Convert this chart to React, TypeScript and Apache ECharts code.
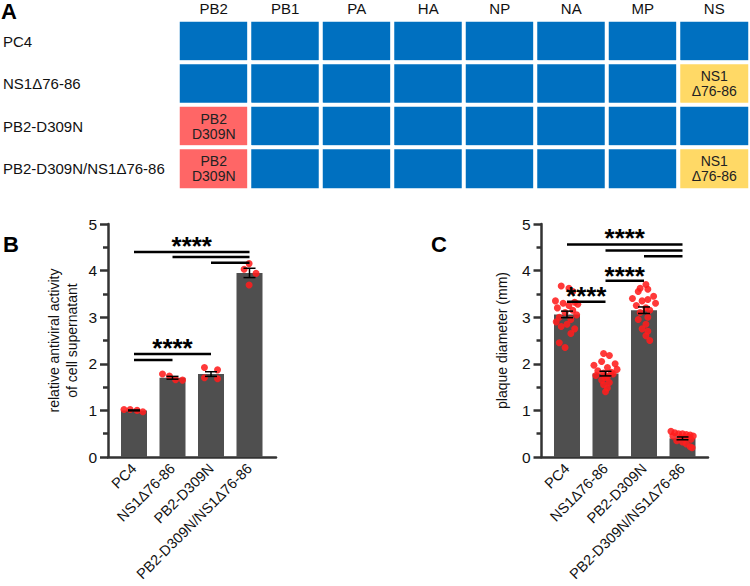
import React, { useEffect, useRef } from "react";
import * as echarts from "echarts";

const FONT = "Liberation Sans, Arial, Helvetica, sans-serif";

// Panel A
const segments = ["PB2", "PB1", "PA", "HA", "NP", "NA", "MP", "NS"];
const strains = ["PC4", "NS1Δ76-86", "PB2-D309N", "PB2-D309N/NS1Δ76-86"];
const pb2Mutant = [0, 0, 1, 1];
const ns1Deletion = [0, 1, 0, 1];
const pb2MutLabel = "PB2\nD309N";
const ns1DelLabel = "NS1\nΔ76-86";

// Panel B
const bMeans = [1.0, 1.7, 1.78, 3.95];
const bSem = [0.01, 0.03, 0.05, 0.1];
const bPoints = [
  [1.02, 1.02, 1.0, 0.97],
  [1.78, 1.74, 1.66, 1.65],
  [1.92, 1.87, 1.7, 1.68],
  [4.03, 4.15, 3.94, 3.69],
];
const bJitter = [
  [-0.26, -0.1, 0.08, 0.23],
  [-0.26, -0.08, 0.08, 0.26],
  [-0.17, 0.17, -0.17, 0.17],
  [-0.14, -0.01, 0.17, -0.01],
];
const bSigLines = [
  [0, 3, 4.4],
  [1, 3, 4.29],
  [2, 3, 4.17],
  [0, 2, 2.21],
  [0, 1, 2.08],
];
const bStars = [
  [1.5, 4.66],
  [1.0, 2.47],
];

// Panel C
const cMeans = [3.06, 1.79, 3.15, 0.4];
const cSem = [0.07, 0.05, 0.07, 0.03];
const cPoints = [
  [3.67, 3.62, 3.55, 3.35, 3.32, 3.3, 3.28, 3.25, 3.2, 3.15, 3.1, 3.05, 3.0, 2.95, 2.9, 2.85, 2.8, 2.75, 2.65, 2.45, 2.35],
  [2.22, 2.18, 2.05, 2.0, 1.97, 1.92, 1.88, 1.85, 1.82, 1.8, 1.78, 1.75, 1.72, 1.7, 1.65, 1.6, 1.55, 1.48, 1.4],
  [3.7, 3.62, 3.6, 3.55, 3.45, 3.4, 3.38, 3.35, 3.3, 3.25, 3.2, 3.15, 3.1, 3.0, 2.95, 2.85, 2.75, 2.7, 2.6, 2.5],
  [0.55, 0.52, 0.5, 0.5, 0.48, 0.47, 0.45, 0.45, 0.43, 0.42, 0.4, 0.38, 0.35, 0.32, 0.28, 0.22, 0.2],
];
const cJitter = [
  [-0.15, 0.05, 0.15, -0.3, 0.2, -0.1, 0.28, 0.05, -0.25, 0.15, -0.05, 0.25, -0.2, 0.1, -0.28, 0.0, -0.15, 0.2, 0.1, -0.2, -0.05],
  [-0.05, 0.1, -0.1, 0.25, -0.3, 0.05, 0.3, -0.2, 0.15, -0.05, 0.2, -0.25, 0.05, 0.0, -0.1, 0.1, -0.05, 0.05, 0.0],
  [0.05, -0.1, 0.1, -0.15, 0.25, -0.3, 0.1, -0.05, 0.3, -0.2, 0.05, 0.15, -0.1, 0.1, -0.15, 0.05, -0.05, 0.1, 0.05, 0.15],
  [-0.3, -0.2, -0.1, 0.0, 0.1, 0.2, 0.28, -0.25, 0.15, -0.05, 0.05, 0.22, -0.15, 0.0, 0.1, 0.2, 0.25],
];
const cSigLines = [
  [0, 3, 4.56],
  [1, 3, 4.43],
  [2, 3, 4.31],
  [1, 2, 3.78],
  [0, 1, 3.33],
];
const cStars = [
  [1.5, 4.82],
  [1.5, 4.02],
  [0.5, 3.58],
];

const yTicks = [0, 1, 2, 3, 4, 5];

const BLUE = "#0070C0";
const RED = "#FF6666";
const YELLOW = "#FFD966";
const BAR = "#4F4F4F";
const AXIS = "#333333";
const TXT = "#111111";

function buildHeat() {
  const out: any[] = [];
  strains.forEach((_, s) => {
    segments.forEach((_, g) => {
      let v = 0;
      let label = "";
      if (g === 0 && pb2Mutant[s]) {
        v = 1;
        label = pb2MutLabel;
      }
      if (g === 7 && ns1Deletion[s]) {
        v = 2;
        label = ns1DelLabel;
      }
      out.push({ value: [g, s, v], name: label });
    });
  });
  return out;
}

function panelSeries(
  means: number[],
  sem: number[],
  points: number[][],
  jitter: number[][],
  sigLines: number[][],
  stars: number[][],
  catX: number,
  valX: number,
  yIdx: number
) {
  const scatterData: number[][] = [];
  points.forEach((arr, i) => arr.forEach((v, j) => scatterData.push([i + jitter[i][j], v])));
  return [
    {
      type: "bar",
      xAxisIndex: catX,
      yAxisIndex: yIdx,
      data: means,
      barWidth: 26,
      itemStyle: { color: BAR },
      silent: true,
      z: 2,
    },
    {
      type: "scatter",
      xAxisIndex: valX,
      yAxisIndex: yIdx,
      data: scatterData,
      symbolSize: 7,
      itemStyle: { color: "#FF1E1E", opacity: 0.88 },
      silent: true,
      z: 3,
    },
    {
      type: "custom",
      xAxisIndex: valX,
      yAxisIndex: yIdx,
      data: means.map((m, i) => [i, m, sem[i]]),
      z: 4,
      silent: true,
      renderItem: (params: any, api: any) => {
        const x = api.value(0);
        const m = api.value(1);
        const e = api.value(2);
        const top = api.coord([x, m + e]);
        const bot = api.coord([x, m - e]);
        const st = { stroke: "#000", lineWidth: 1.5 };
        return {
          type: "group",
          children: [
            { type: "line", shape: { x1: top[0], y1: top[1], x2: bot[0], y2: bot[1] }, style: st },
            { type: "line", shape: { x1: top[0] - 6, y1: top[1], x2: top[0] + 6, y2: top[1] }, style: st },
            { type: "line", shape: { x1: bot[0] - 6, y1: bot[1], x2: bot[0] + 6, y2: bot[1] }, style: st },
          ],
        };
      },
    },
    {
      type: "custom",
      xAxisIndex: valX,
      yAxisIndex: yIdx,
      data: sigLines,
      z: 5,
      silent: true,
      renderItem: (params: any, api: any) => {
        const a = api.coord([api.value(0), api.value(2)]);
        const b = api.coord([api.value(1), api.value(2)]);
        return {
          type: "line",
          shape: { x1: a[0], y1: a[1], x2: b[0], y2: b[1] },
          style: { stroke: "#000", lineWidth: 2.5 },
        };
      },
    },
    {
      type: "custom",
      xAxisIndex: valX,
      yAxisIndex: yIdx,
      data: stars,
      z: 5,
      silent: true,
      renderItem: (params: any, api: any) => {
        const p = api.coord([api.value(0), api.value(1)]);
        return {
          type: "text",
          x: p[0],
          y: p[1] + 6,
          style: {
            text: "****",
            fill: "#000",
            font: `bold 26px ${FONT}`,
            align: "center",
            verticalAlign: "middle",
          },
        };
      },
    },
  ];
}

function frameAxes(gridIndex: number, name: string, nameGap: number) {
  const x = {
    type: "value",
    gridIndex,
    min: 0,
    max: 1,
    axisLine: { show: true, lineStyle: { color: AXIS, width: 2.5 } },
    axisTick: { show: false },
    axisLabel: { show: false },
    splitLine: { show: false },
  };
  const y = {
    type: "value",
    gridIndex,
    min: yTicks[0],
    max: yTicks[yTicks.length - 1],
    interval: 1,
    name,
    nameLocation: "middle",
    nameGap,
    nameTextStyle: { fontFamily: FONT, fontSize: 14, color: TXT, lineHeight: 18 },
    axisLine: { show: true, lineStyle: { color: AXIS, width: 2.5 } },
    axisTick: { show: true, length: 8, lineStyle: { color: AXIS, width: 2.5 } },
    minorTick: { show: true, splitNumber: 2, length: 5, lineStyle: { color: AXIS, width: 2.5 } },
    axisLabel: { fontFamily: FONT, fontSize: 15.5, color: TXT, margin: 11 },
    splitLine: { show: false },
  };
  return { x, y };
}

export default function App() {
  const ref = useRef<HTMLDivElement>(null);
  useEffect(() => {
    document.body.style.margin = "0";
    if (!ref.current) return;
    const chart = echarts.init(ref.current, undefined, { renderer: "svg" });

    const bFrame = frameAxes(1, "relative antiviral activity\nof cell supernatant", 27);
    const cFrame = frameAxes(3, "plaque diameter (mm)", 31);

    const catAxis = (gridIndex: number) => ({
      type: "category",
      gridIndex,
      data: strains,
      position: "bottom",
      axisLine: { show: false },
      axisTick: { show: false },
      axisLabel: {
        interval: 0,
        rotate: 45,
        margin: 9,
        fontFamily: FONT,
        fontSize: 14.5,
        color: TXT,
      },
    });
    const valAxis = (gridIndex: number) => ({
      type: "value",
      gridIndex,
      min: -0.5,
      max: 3.5,
      show: false,
    });
    const hiddenY = (gridIndex: number) => ({
      type: "value",
      gridIndex,
      min: 0,
      max: 5,
      show: false,
    });

    const option: any = {
      animation: false,
      backgroundColor: "#fff",
      textStyle: { fontFamily: FONT },
      title: [
        { text: "A", left: 1, top: 0, padding: 0, textStyle: { fontSize: 22, fontWeight: "bold", color: "#000", fontFamily: FONT } },
        { text: "B", left: 3, top: 233, padding: 0, textStyle: { fontSize: 22, fontWeight: "bold", color: "#000", fontFamily: FONT } },
        { text: "C", left: 431, top: 233, padding: 0, textStyle: { fontSize: 22, fontWeight: "bold", color: "#000", fontFamily: FONT } },
      ],
      grid: [
        { left: 178, top: 20, width: 572, height: 170 },
        { left: 108, top: 224, width: 168, height: 233 },
        { left: 114.75, top: 224, width: 154, height: 233 },
        { left: 541.5, top: 224, width: 166.5, height: 233 },
        { left: 547.75, top: 224, width: 154, height: 233 },
      ],
      xAxis: [
        {
          type: "category",
          gridIndex: 0,
          data: segments,
          position: "top",
          axisLine: { show: false },
          axisTick: { show: false },
          axisLabel: { fontFamily: FONT, fontSize: 15, color: TXT, margin: 4 },
        },
        bFrame.x,
        valAxis(2),
        catAxis(2),
        cFrame.x,
        valAxis(4),
        catAxis(4),
      ],
      yAxis: [
        {
          type: "category",
          gridIndex: 0,
          data: strains,
          inverse: true,
          axisLine: { show: false },
          axisTick: { show: false },
          axisLabel: { fontFamily: FONT, fontSize: 15, color: TXT, align: "left", margin: 175 },
        },
        bFrame.y,
        hiddenY(2),
        cFrame.y,
        hiddenY(4),
      ],
      visualMap: {
        type: "piecewise",
        show: false,
        seriesIndex: 0,
        dimension: 2,
        pieces: [
          { value: 0, color: BLUE },
          { value: 1, color: RED },
          { value: 2, color: YELLOW },
        ],
      },
      series: [
        {
          type: "heatmap",
          xAxisIndex: 0,
          yAxisIndex: 0,
          data: buildHeat(),
          silent: true,
          itemStyle: { borderColor: "#fff", borderWidth: 4 },
          label: {
            show: true,
            formatter: (p: any) => p.name || "",
            fontFamily: FONT,
            fontSize: 14,
            lineHeight: 15,
            color: "#222",
          },
        },
        ...panelSeries(bMeans, bSem, bPoints, bJitter, bSigLines, bStars, 3, 2, 2),
        ...panelSeries(cMeans, cSem, cPoints, cJitter, cSigLines, cStars, 6, 5, 4),
      ],
    };
    chart.setOption(option);
    return () => chart.dispose();
  }, []);
  return <div ref={ref} style={{ width: 750, height: 586 }} />;
}
